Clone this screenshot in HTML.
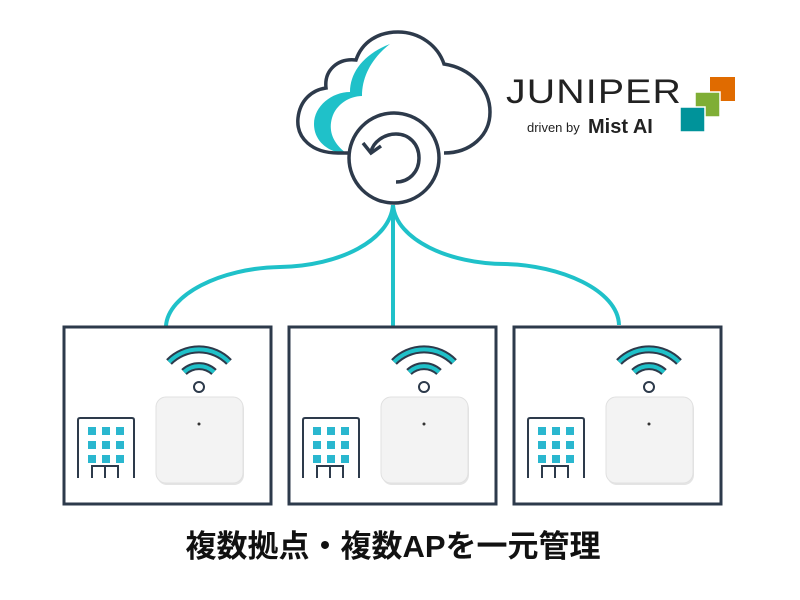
<!DOCTYPE html>
<html><head><meta charset="utf-8"><style>
html,body{margin:0;padding:0;background:#fff;width:800px;height:600px;overflow:hidden}
</style></head><body>
<svg width="800" height="600" xmlns="http://www.w3.org/2000/svg">
<g fill="none" stroke="#1fc1c9" stroke-width="4">
<path d="M393 205 C390 240 340 266 280 267 C220 268 168 295 166 326"/>
<path d="M393 205 L393 327"/>
<path d="M393 205 C396 240 450 264 505 264 C560 265 618 290 619 325"/>
</g>
<!-- cloud -->
<path d="M390 44 C364 54 350 72 350 92 C332 92 314 106 314 124 C314 140 326 150 340 153 L346 153 C334 144 328 132 332 118 C336 104 350 96 362 96 C362 76 372 58 390 44 Z" fill="#1fc1c9"/>
<path d="M398 153 H338 C312 153 296 138 298 118 C300 100 312 90 326 88 C324 70 338 58 356 60 C362 42 378 32 398 32 C420 32 438 46 444 64 C470 68 490 88 490 112 C490 136 470 153 444 153" fill="none" stroke="#2d3a4b" stroke-width="3.5"/>
<circle cx="394" cy="158" r="45" fill="#fff" stroke="#2d3a4b" stroke-width="3.5"/>
<path d="M396 182 C409 182 419 172 419 158 C419 144 409 134 396 134 C384 134 373 142 371 152" fill="none" stroke="#2d3a4b" stroke-width="3.5"/>
<path d="M363 143 L371 153 L381 146" fill="none" stroke="#2d3a4b" stroke-width="3.5"/>
<!-- logo -->
<text x="506" y="103" font-family="Liberation Sans, sans-serif" font-size="34" fill="#222" letter-spacing="1" textLength="176" lengthAdjust="spacingAndGlyphs" font-weight="300">JUNIPER</text>
<text x="527" y="132" font-family="Liberation Sans, sans-serif" font-size="13" fill="#222">driven by</text>
<text x="588" y="133" font-family="Liberation Sans, sans-serif" font-size="20" font-weight="bold" fill="#222">Mist AI</text>
<rect x="710" y="77" width="25" height="24" fill="#e06b00"/>
<rect x="695" y="92" width="25" height="25" fill="#7fae35" stroke="#fff" stroke-width="1.5"/>
<rect x="680" y="107" width="25" height="25" fill="#00939a" stroke="#fff" stroke-width="1.5"/>
<!-- boxes -->
<g id="b">
<rect x="64" y="327" width="207" height="177" fill="none" stroke="#2d3a4b" stroke-width="3"/>
<path d="M169 362 A42 42 0 0 1 229 362" fill="none" stroke="#2d3a4b" stroke-width="8"/>
<path d="M169 362 A42 42 0 0 1 229 362" fill="none" stroke="#1fc1c9" stroke-width="4"/>
<path d="M184 372 A22 22 0 0 1 214 372" fill="none" stroke="#2d3a4b" stroke-width="8"/>
<path d="M184 372 A22 22 0 0 1 214 372" fill="none" stroke="#1fc1c9" stroke-width="4"/>
<circle cx="199" cy="387" r="5" fill="#fff" stroke="#2d3a4b" stroke-width="2"/>
<rect x="157" y="399" width="87" height="86" rx="10" fill="#e4e4e4"/>
<rect x="156" y="397" width="87" height="86" rx="10" fill="#f3f3f3" stroke="#e0e0e0"/>
<circle cx="199" cy="424" r="1.5" fill="#333"/>
<path d="M78 478 V420 Q78 418 80 418 H132 Q134 418 134 420 V478" fill="none" stroke="#2d3a4b" stroke-width="2"/>
<path d="M92 478 V466 H118 V478 M105 466 V478" fill="none" stroke="#2d3a4b" stroke-width="2"/>
<g fill="#2ab7cf">
<rect x="88" y="427" width="8" height="8"/><rect x="102" y="427" width="8" height="8"/><rect x="116" y="427" width="8" height="8"/>
<rect x="88" y="441" width="8" height="8"/><rect x="102" y="441" width="8" height="8"/><rect x="116" y="441" width="8" height="8"/>
<rect x="88" y="455" width="8" height="8"/><rect x="102" y="455" width="8" height="8"/><rect x="116" y="455" width="8" height="8"/>
</g>
</g>
<use href="#b" x="225"/>
<use href="#b" x="450"/>
<text x="393" y="557" text-anchor="middle" font-family="Liberation Sans, Noto Sans CJK JP, sans-serif" font-size="31" font-weight="bold" fill="#111">複数拠点・複数APを一元管理</text>
</svg>
</body></html>
